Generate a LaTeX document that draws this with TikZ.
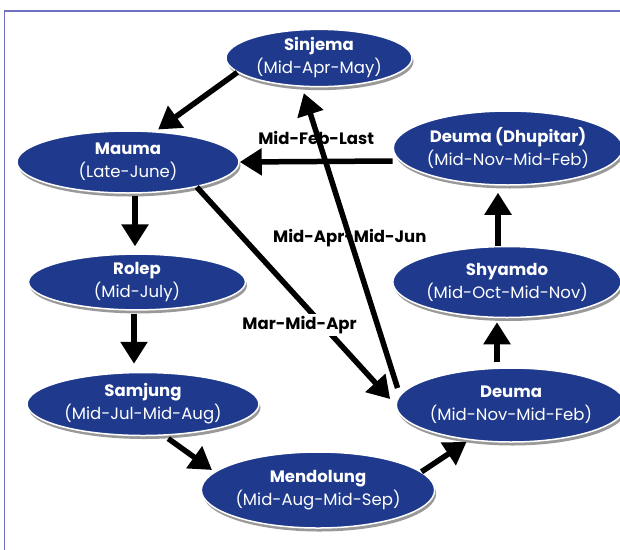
\documentclass[tikz,border=0pt]{standalone}
\usepackage{fontspec}
\setmainfont{Poppins}
\usepackage{tikz}
\usetikzlibrary{arrows.meta,shapes,positioning,shadows}

\definecolor{seasonblue}{RGB}{31,58,140}
\definecolor{framelilac}{RGB}{112,112,196}

\begin{document}
\begin{tikzpicture}[x=1pt,y=-1pt,->,>={Triangle[length=22pt,width=26pt]},
line width=5.5pt,on grid,node distance=120pt,
font=\fontsize{16.5}{23}\selectfont]
\tikzstyle{season}=[ellipse, fill=seasonblue, draw=white,
line width=1.5pt, text=white, align=center, inner sep=0pt,
drop shadow={shadow xshift=1.5pt, shadow yshift=-3.5pt,
fill=black!40, opacity=1}]
\tikzstyle{period}=[font=\fontsize{16.5}{20}\selectfont\bfseries,
text=black]

\useasboundingbox (0,0) rectangle (620,549);
\begin{scope}
\clip (0,0) rectangle (620,549);
\draw[-, line width=1.5pt, draw=framelilac] (4.5,11) rectangle (640,570);
\end{scope}

\node[season, minimum width=222pt, minimum height=62pt]
(Mauma) at (128,162) {\textbf{Mauma}\\(Late-June)};

\node[season, minimum width=186pt, minimum height=54pt]
(Sinjema) [above right=104pt and 191pt of Mauma] {\textbf{Sinjema}\\(Mid-Apr-May)};

\node[season, minimum width=217pt, minimum height=55pt]
(Rolep) [below right=120pt and 9pt of Mauma] {\textbf{Rolep}\\(Mid-July)};

\node[season, minimum width=232pt, minimum height=63pt]
(Samjung) [below right=122pt and 6pt of Rolep] {\textbf{Samjung}\\(Mid-Jul-Mid-Aug)};

\node[season, minimum width=231pt, minimum height=76pt]
(Mendolung) [below right=86pt and 175pt of Samjung] {\textbf{Mendolung}\\(Mid-Aug-Mid-Sep)};

\node[season, minimum width=222pt, minimum height=74pt]
(Deuma) [above right=85pt and 193pt of Mendolung] {\textbf{Deuma}\\(Mid-Nov-Mid-Feb)};

\node[season, minimum width=224pt, minimum height=71pt]
(Shyamdo) [above left=123pt and 4pt of Deuma] {\textbf{Shyamdo}\\(Mid-Oct-Mid-Nov)};

\node[season, minimum width=213pt, minimum height=74pt]
(Dhupitar) [above right=134pt and 1pt of Shyamdo] {\textbf{Deuma (Dhupitar)}\\(Mid-Nov-Mid-Feb)};

% arrows between the seasons
\path (Sinjema.190) edge[shorten >=3pt] (Mauma.48);

\path ([yshift=-13pt]Dhupitar.west) edge node[period, above=11pt, midway] {Mid-Feb-Last} (Mauma.east);

\path (Mauma.-20) edge[shorten >=8pt] node[period, pos=0.633, xshift=-23pt,
fill=white, inner sep=2pt] {Mar-Mid-Apr} (Deuma.west);

\path ([shift={(2pt,17pt)}]Deuma.west) edge[shorten >=6pt] node[period, midway] {Mid-Apr-Mid-Jun} ([xshift=-17pt]Sinjema.south);

\path ([xshift=7pt]Mauma.south) edge[shorten <=2pt, shorten >=7pt] ([xshift=-2pt]Rolep.north);

\path ([xshift=-3pt]Rolep.south) edge[shorten <=3pt, shorten >=8pt] ([xshift=-9pt]Samjung.north);

\path ([xshift=22pt]Samjung.south) edge[shorten <=4pt, shorten >=3pt] (Mendolung.170);

\path (Mendolung.10) edge[shorten >=3pt] (Deuma.220);

\path ([xshift=-14pt]Deuma.north) edge[shorten <=5pt, shorten >=4pt] ([xshift=-10pt]Shyamdo.south);

\path ([xshift=-9pt]Shyamdo.north) edge[shorten >=7pt] ([xshift=-10pt]Dhupitar.south);

\end{tikzpicture}
\end{document}
